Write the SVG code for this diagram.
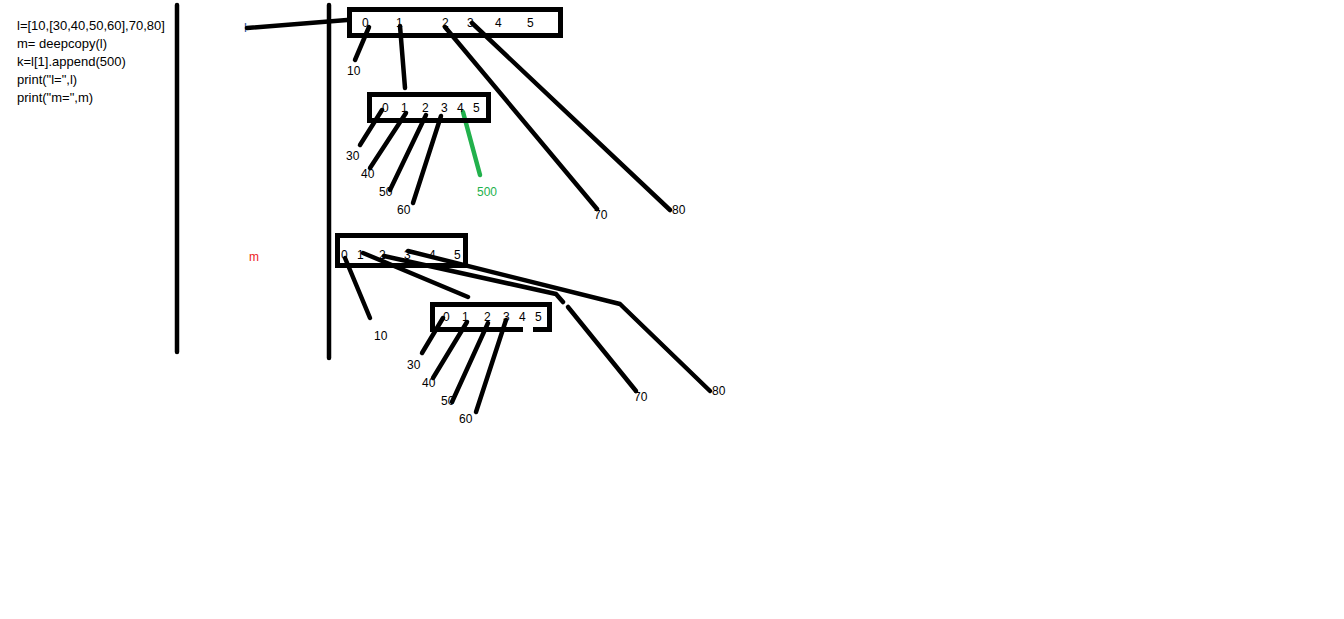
<svg xmlns="http://www.w3.org/2000/svg" width="1344" height="619" viewBox="0 0 1344 619">
<style>
text{font-family:"Liberation Sans",Arial,sans-serif;font-size:12px;fill:#000}
.code{font-size:13px}
.box{fill:none;stroke:#000;stroke-width:5}
.ln{fill:none;stroke:#000;stroke-width:4.5;stroke-linecap:round;stroke-linejoin:round}
.gr{fill:none;stroke:#22b14c;stroke-width:4.5;stroke-linecap:round}
</style>
<rect width="1344" height="619" fill="#fff"/>
<g id="code">
<text class="code" x="17" y="30">l=[10,[30,40,50,60],70,80]</text>
<text class="code" x="17" y="48">m= deepcopy(l)</text>
<text class="code" x="17" y="66">k=l[1].append(500)</text>
<text class="code" x="17" y="84">print("l=",l)</text>
<text class="code" x="17" y="102">print("m=",m)</text>
</g>
<g id="dividers">
<line class="ln" x1="177" y1="5" x2="177" y2="352"/>
<line class="ln" x1="329" y1="5" x2="329" y2="358"/>
</g>
<g id="label-l"><text x="244" y="32" style="fill:#1f4e9a;font-size:13px">l</text></g>
<g id="label-m"><text x="249" y="261" style="fill:#ed1c24">m</text></g>
<g id="connectors">
<line class="ln" x1="247" y1="28" x2="347" y2="20"/>
<line class="ln" x1="369" y1="27" x2="355" y2="60"/>
<line class="ln" x1="400" y1="26" x2="405" y2="88"/>
<line class="ln" x1="445" y1="27" x2="597" y2="209"/>
<line class="ln" x1="472" y1="23" x2="670" y2="210"/>
<line class="ln" x1="382" y1="110" x2="360" y2="145"/>
<line class="ln" x1="406" y1="113" x2="370" y2="168"/>
<line class="ln" x1="426" y1="115" x2="390" y2="190"/>
<line class="ln" x1="441" y1="116" x2="413" y2="203"/>
<line class="gr" x1="463" y1="112" x2="480" y2="175"/>
<line class="ln" x1="345" y1="258" x2="370" y2="318"/>
<line class="ln" x1="363" y1="253" x2="468" y2="297"/>
<polyline class="ln" points="384,256 556,294 563,302"/>
<line class="ln" x1="568" y1="307" x2="636" y2="391"/>
<polyline class="ln" points="408,251 620,304 710,391"/>
<line class="ln" x1="443" y1="318" x2="422" y2="353"/>
<line class="ln" x1="467" y1="322" x2="433" y2="378"/>
<line class="ln" x1="488" y1="323" x2="452" y2="402"/>
<line class="ln" x1="506" y1="320" x2="476" y2="412"/>
</g>
<g id="l-list">
<rect class="box" x="349.5" y="9.5" width="211" height="26"/>
<text x="362" y="27">0</text><text x="396" y="27">1</text><text x="442" y="27">2</text><text x="467" y="27">3</text><text x="495" y="27">4</text><text x="527" y="27">5</text>
<text x="347" y="75">10</text>
</g>
<g id="l-inner">
<rect class="box" x="369.5" y="94.5" width="119" height="26"/>
<text x="382" y="112">0</text><text x="401" y="112">1</text><text x="422" y="112">2</text><text x="441" y="112">3</text><text x="457" y="112">4</text><text x="473" y="112">5</text>
<text x="346" y="160">30</text><text x="361" y="178">40</text><text x="379" y="196">50</text><text x="397" y="214">60</text>
<text x="477" y="196" style="fill:#22b14c">500</text>
<text x="594" y="219">70</text><text x="672" y="214">80</text>
</g>
<g id="m-list">
<rect class="box" x="337.5" y="235.5" width="128" height="30"/>
<text x="341" y="259">0</text><text x="357" y="259">1</text><text x="379" y="259">2</text><text x="404" y="259">3</text><text x="429" y="259">4</text><text x="454" y="259">5</text>
<text x="374" y="340">10</text>
</g>
<g id="m-inner">
<polyline class="box" points="523,329.5 432.5,329.5 432.5,304.5 549.5,304.5 549.5,329.5 533,329.5"/>
<text x="443" y="321">0</text><text x="462" y="321">1</text><text x="484" y="321">2</text><text x="503" y="321">3</text><text x="519" y="321">4</text><text x="535" y="321">5</text>
<text x="407" y="369">30</text><text x="422" y="387">40</text><text x="441" y="405">50</text><text x="459" y="423">60</text>
<text x="634" y="401">70</text><text x="712" y="395">80</text>
</g>
</svg>
